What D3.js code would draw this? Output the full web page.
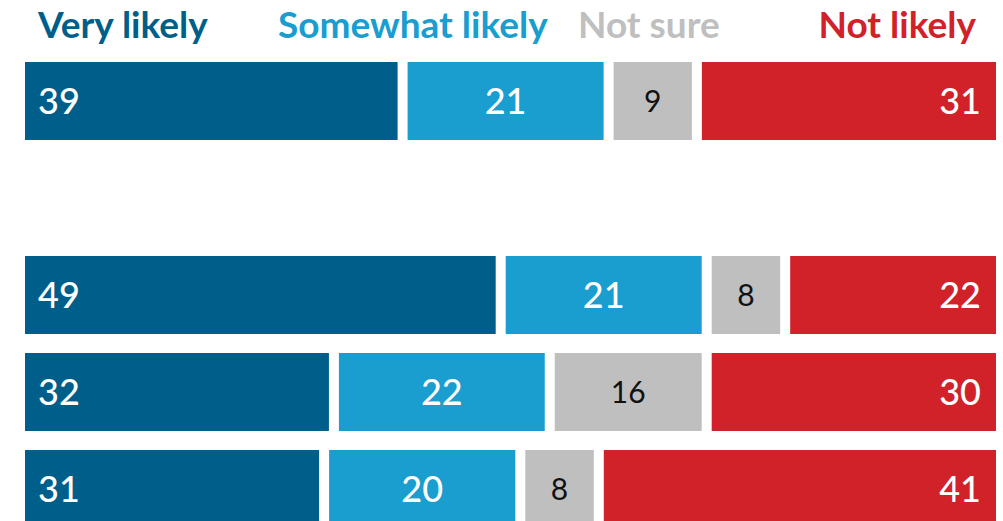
<!DOCTYPE html>
<html>
<head>
<meta charset="utf-8">
<script src="https://cdn.jsdelivr.net/npm/d3@7"></script>
<style>
  html, body { margin: 0; padding: 0; background: #fff; overflow: hidden; }
  svg { display: block; font-family: Lato, "Open Sans", sans-serif; }
</style>
</head>
<body>
<div id="chart"></div>
<script>
// responses, in stacking order
var categories = ["Very likely", "Somewhat likely", "Not sure", "Not likely"];
// row keys; "gap" is an empty slot between the first row and the rest
var rows = ["r1", "gap", "r2", "r3", "r4"];
var veryLikely     = [39, 49, 32, 31];
var somewhatLikely = [21, 21, 22, 20];
var notSure        = [9, 8, 16, 8];
var notLikely      = [31, 22, 30, 41];
var dataRows = ["r1", "r2", "r3", "r4"];

var colors = ["#005f8a", "#1a9dcf", "#bfbfbf", "#d12229"];
var labelColors = ["#fff", "#fff", "#111", "#fff"];

var width = 1003, height = 521;
var gap = 10; // white gutter between segments

var svg = d3.select("#chart").append("svg")
  .attr("width", width)
  .attr("height", height);

var x = d3.scaleLinear().domain([0, 100]).range([20, 1001]);
// last row runs past the bottom edge, as in the original
var y = d3.scaleBand().domain(rows).range([62, 528]).paddingInner(0.196).paddingOuter(0);

// build stacked table from the series arrays
var table = dataRows.map(function(r, i) {
  return { row: r, "Very likely": veryLikely[i], "Somewhat likely": somewhatLikely[i],
           "Not sure": notSure[i], "Not likely": notLikely[i] };
});
var series = d3.stack().keys(categories)(table);

// legend
var legendX = [38, 278, 578, 976];
var legendAnchor = ["start", "start", "start", "end"];
svg.append("g").selectAll("text")
  .data(categories)
  .enter().append("text")
  .attr("x", function(d, i) { return legendX[i]; })
  .attr("y", 38)
  .attr("text-anchor", function(d, i) { return legendAnchor[i]; })
  .style("font-size", "37px")
  .style("font-weight", 700)
  .style("fill", function(d, i) { return colors[i]; })
  .text(function(d) { return d; });

var groups = svg.append("g").selectAll("g")
  .data(series)
  .enter().append("g")
  .style("fill", function(d, i) { return colors[i]; });

groups.selectAll("rect")
  .data(function(d) { return d; })
  .enter().append("rect")
  .attr("x", function(d) { return x(d[0]) + gap / 2; })
  .attr("y", function(d) { return y(d.data.row); })
  .attr("width", function(d) { return x(d[1]) - x(d[0]) - gap; })
  .attr("height", y.bandwidth());

// value labels
groups.each(function(s, si) {
  d3.select(this).selectAll("text")
    .data(s)
    .enter().append("text")
    .attr("x", function(d) {
      if (si === 0) return x(d[0]) + gap / 2 + 13;
      if (si === 3) return x(d[1]) - gap / 2 - 15;
      return (x(d[0]) + x(d[1])) / 2;
    })
    .attr("y", function(d) { return y(d.data.row) + y.bandwidth() / 2; })
    .attr("dy", "0.36em")
    .attr("text-anchor", si === 0 ? "start" : si === 3 ? "end" : "middle")
    .style("font-size", si === 2 ? "30px" : "36px")
    .style("font-weight", si === 2 ? 400 : 500)
    .style("fill", labelColors[si])
    .text(function(d) { return d[1] - d[0]; });
});
</script>
</body>
</html>
